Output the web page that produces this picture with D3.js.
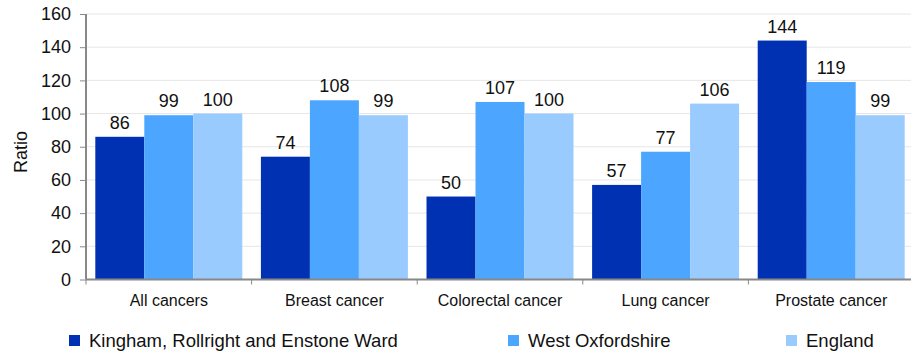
<!DOCTYPE html>
<html><head><meta charset="utf-8">
<script src="https://cdn.jsdelivr.net/npm/d3@7"></script>
<style>body{margin:0;background:#fff}svg{display:block;font-family:"Liberation Sans",Arial,sans-serif}</style>
</head><body><svg id="c" width="911" height="354"></svg>
<script>
const categories = ["All cancers","Breast cancer","Colorectal cancer","Lung cancer","Prostate cancer"];
const seriesNames = ["Kingham, Rollright and Enstone Ward","West Oxfordshire","England"];
const kingham = [86,74,50,57,144];
const westOx = [99,108,107,77,119];
const england = [100,99,100,106,99];
const yTicks = [0,20,40,60,80,100,120,140,160];
const colors = ["#0031b2","#4ca6ff","#99cbff"];

const seriesValues = [kingham, westOx, england];
const svg = d3.select("#c");
const x0 = d3.scaleBand().domain(categories).range([86, 914]).paddingInner(0).paddingOuter(0);
const x1 = d3.scaleBand().domain(seriesNames).range([0, x0.bandwidth()]).paddingInner(0).paddingOuter(0.19);
const y = d3.scaleLinear().domain([0,160]).range([279.5, 14]);

// gridlines
svg.append("g").selectAll("line").data(yTicks.slice(1)).join("line")
  .attr("x1",86).attr("x2",911).attr("y1",d=>y(d)).attr("y2",d=>y(d))
  .attr("stroke","#e6e6e6").attr("stroke-width",1);

// bars
const g = svg.append("g").selectAll("g").data(categories).join("g")
  .attr("transform",c=>`translate(${x0(c)},0)`);
g.selectAll("rect").data((c,i)=>seriesNames.map((s,j)=>({s,j,v:seriesValues[j][i]}))).join("rect")
  .attr("x",d=>x1(d.s)).attr("width",x1.bandwidth()).attr("y",d=>y(d.v)).attr("height",d=>y(0)-y(d.v))
  .attr("fill",d=>colors[d.j]);
g.selectAll("text").data((c,i)=>seriesNames.map((s,j)=>({s,j,v:seriesValues[j][i]}))).join("text")
  .attr("x",d=>x1(d.s)+x1.bandwidth()/2).attr("y",d=>y(d.v)-8)
  .attr("text-anchor","middle").attr("font-size",18).attr("fill","#111").text(d=>d.v);

// y axis
const ya = svg.append("g").attr("transform","translate(86,0)")
  .call(d3.axisLeft(y).tickValues(yTicks).tickSize(6).tickPadding(9));
ya.select(".domain").attr("stroke","#888").attr("stroke-width",2).attr("d",`M0,${y(160)}V${y(0)}`);
ya.selectAll(".tick line").attr("stroke","#888");
ya.selectAll(".tick text").attr("font-size",18).attr("fill","#111").attr("font-family","Liberation Sans, Arial, sans-serif");

// x axis
const xa = svg.append("g").attr("transform",`translate(0,${y(0)})`);
xa.append("line").attr("x1",86).attr("x2",911).attr("y1",0).attr("y2",0).attr("stroke","#888").attr("stroke-width",2);
xa.selectAll(".xt").data(categories).join("line").attr("class","xt")
  .attr("x1",c=>x0(c)).attr("x2",c=>x0(c)).attr("y1",0).attr("y2",5).attr("stroke","#888");
xa.append("line").attr("x1",914).attr("x2",914).attr("y1",0).attr("y2",5).attr("stroke","#888");
xa.selectAll("text").data(categories).join("text")
  .attr("x",c=>x0(c)+x0.bandwidth()/2).attr("y",26).attr("text-anchor","middle")
  .attr("font-size",16).attr("fill","#111").text(c=>c);

// y title
svg.append("text").attr("transform","translate(27,152) rotate(-90)").attr("text-anchor","middle")
  .attr("font-size",18).attr("fill","#111").text("Ratio");

// legend
const legX = [69, 508, 786];
const lg = svg.append("g").selectAll("g").data(seriesNames).join("g")
  .attr("transform",(d,i)=>`translate(${legX[i]},335)`);
lg.append("rect").attr("width",11).attr("height",11).attr("fill",(d,i)=>colors[i]);
lg.append("text").attr("x",20).attr("y",12).attr("font-size",18.5).attr("fill","#111").text(d=>d);
</script></body></html>
